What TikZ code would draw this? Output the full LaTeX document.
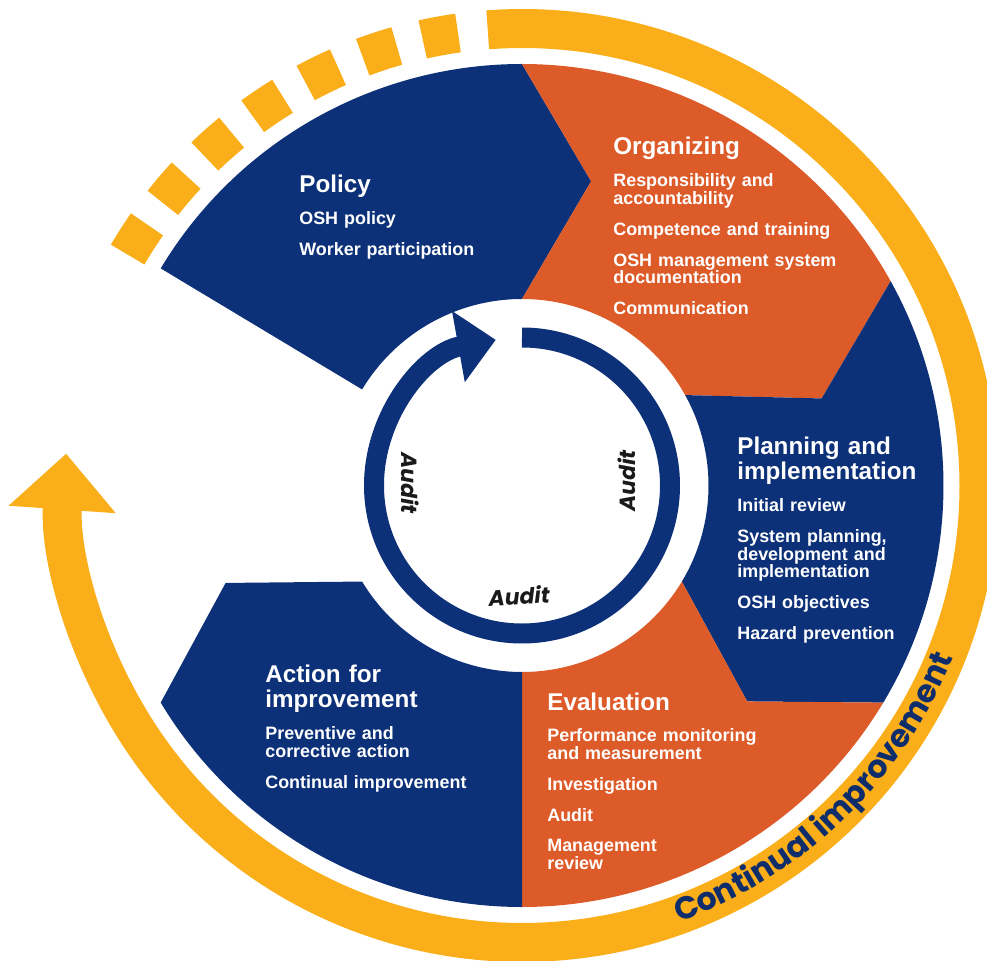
\documentclass[tikz,border=0pt]{standalone}
\usepackage{fontspec}
\setmainfont{Liberation Sans}
\newfontfamily\auditfont[FakeSlant=0.18]{Poppins}
\newfontfamily\cifont{Poppins}
\usetikzlibrary{arrows.meta,decorations.text,positioning}
\definecolor{navy}{HTML}{0D3178}
\definecolor{rust}{HTML}{DD5A29}
\definecolor{gold}{HTML}{FAAE1A}
\definecolor{inknavy}{HTML}{0F2D6B}
\definecolor{ink}{HTML}{1A1A1A}
\newcommand{\segskip}{7.65pt}
\tikzset{
  band/.style={draw=gold, line width=0.78cm},
  ring/.style={draw=navy, line width=0.4cm},
  segtitle/.style={text=white, font=\bfseries\fontsize{13.8pt}{14.7pt}\selectfont, align=left, text width=6cm, inner sep=0pt, anchor=base west},
  segitems/.style={text=white, font=\bfseries\fontsize{10.2pt}{9.9pt}\selectfont, align=left, text width=6cm, inner sep=0pt, anchor=base west},
  audit/.style={text=ink, font=\auditfont\bfseries\fontsize{12.5pt}{12.5pt}\selectfont, inner sep=0pt}
}

\begin{document}
\begin{tikzpicture}[x=0.02cm, y=0.02cm]
    \useasboundingbox (-522,-474.5) rectangle (465,485.5);
    \clip (-522,-474.5) rectangle (465,485.5);

    % outer band with its arrow, and the dashes
    \draw[band, -{Triangle[width=2.08cm, length=1.12cm]}] (94.3:457) arc[start angle=94.3, end angle=-184, radius=457];
    \foreach \k in {0,...,6}
        \draw[band] ({98.05+7.85*\k}:457) arc[start angle={98.05+7.85*\k}, delta angle=4.5, radius=457];

    % chevron tips
    \coordinate (tipPO) at (77.2:312);
    \coordinate (tipOP) at (16.2:312);
    \coordinate (tipPE) at (-43.8:312);
    \coordinate (tipAP) at (198.2:312);

    % segments
    \fill[navy] (149:421.5) arc[start angle=149, end angle=90, radius=421.5] -- (tipPO) -- (90:186.5) arc[start angle=90, end angle=149, radius=186.5] -- cycle;
    \fill[rust] (90:421.5) arc[start angle=90, end angle=29, radius=421.5] -- (tipOP) -- (29:186.5) arc[start angle=29, end angle=90, radius=186.5] -- (tipPO) -- cycle;
    \fill[navy] (29:421.5) arc[start angle=29, end angle=-31, radius=421.5] -- (tipPE) -- (-31:186.5) arc[start angle=-31, end angle=29, radius=186.5] -- (tipOP) -- cycle;
    \fill[rust] (-31:421.5) arc[start angle=-31, end angle=-90, radius=421.5] -- (-90:186.5) arc[start angle=-90, end angle=-31, radius=186.5] -- (tipPE) -- cycle;
    \fill[navy] (270:421.5) arc[start angle=270, end angle=211, radius=421.5] -- (tipAP) -- (211:186.5) arc[start angle=211, end angle=270, radius=186.5] -- cycle;

    % audit ring
    \draw[ring, -{Triangle[width=1.4cm, length=0.76cm]}] (90:148) arc[start angle=90, end angle=-259.8, radius=148];
    \node[audit, rotate=270] (auditL) at (-112,3.5) {Audit};
    \node[audit, rotate=90]  (auditR) at (105,3.5) {Audit};
    \node[audit, rotate=3]   (auditB) at (-4,-110.5) {Audit};

    % band label
    \path[decorate, decoration={text along path, text align=center, text color=inknavy,
        text={|\cifont\bfseries\fontsize{18pt}{18pt}\selectfont|Continual improvement}}]
        (-72:464) arc[start angle=-72, end angle=-20, radius=464];

    % texts
    \node[segtitle] (policy) at (-223,292.5) {Policy};
    \node[segitems] (policyitems) at ([yshift=-0.64cm]policy.base west) {OSH policy\\[\segskip]Worker participation};

    \node[segtitle] (organizing) at (91,330.5) {Organizing};
    \node[segitems] (organizingitems) at ([yshift=-0.64cm]organizing.base west) {Responsibility and\\accountability\\[\segskip]Competence and training\\[\segskip]OSH management system\\documentation\\[\segskip]Communication};

    \node[segtitle] (planning) at (215,31.5) {Planning and\\implementation};
    \node[segitems] (planningitems) at ([yshift=-1.16cm]planning.base west) {Initial review\\[\segskip]System planning,\\development and\\implementation\\[\segskip]OSH objectives\\[\segskip]Hazard prevention};

    \node[segtitle] (evaluation) at (25,-224.5) {Evaluation};
    \node[segitems] (evaluationitems) at ([yshift=-0.64cm]evaluation.base west) {Performance monitoring\\and measurement\\[\segskip]Investigation\\[\segskip]Audit\\[\segskip]Management\\review};

    \node[segtitle] (action) at (-257,-196.5) {Action for\\improvement};
    \node[segitems] (actionitems) at ([yshift=-1.16cm]action.base west) {Preventive and\\corrective action\\[\segskip]Continual improvement};
\end{tikzpicture}
\end{document}
